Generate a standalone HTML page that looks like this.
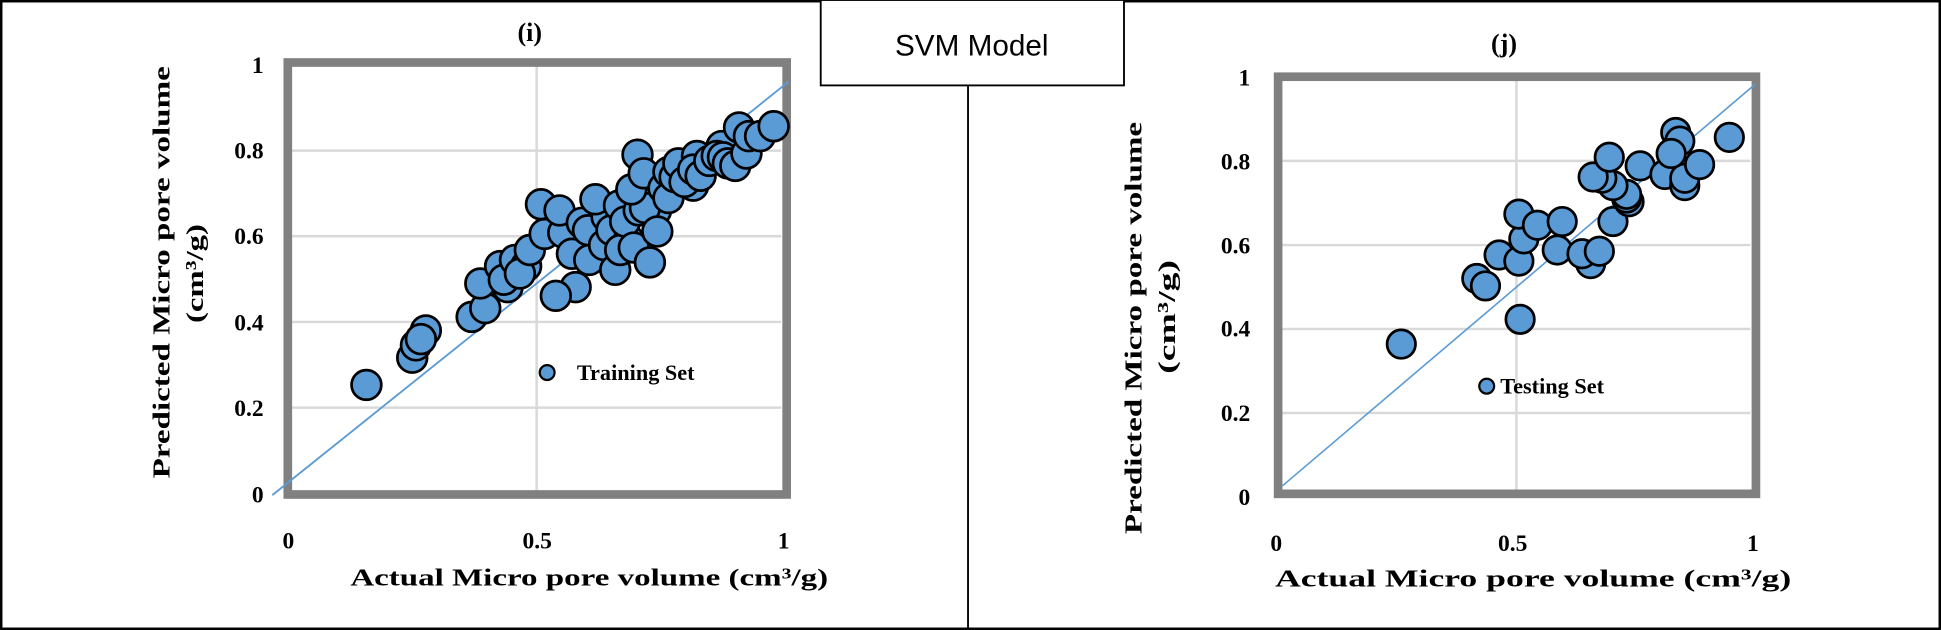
<!DOCTYPE html>
<html><head><meta charset="utf-8"><style>
html,body{margin:0;padding:0;background:#fff;}
svg{display:block;}
text{font-family:"Liberation Serif",serif;font-weight:bold;fill:#000;}
</style></head><body>
<svg width="1941" height="630" viewBox="0 0 1568 509" preserveAspectRatio="none" xmlns="http://www.w3.org/2000/svg">
<rect x="1" y="1" width="1566" height="507" fill="#fff" stroke="#000" stroke-width="2"/>
<line x1="782" y1="69" x2="782" y2="509" stroke="#000" stroke-width="1.5"/>
<rect x="663" y="0" width="245" height="69" fill="#fff" stroke="#000" stroke-width="1.5"/>
<text x="785" y="45" text-anchor="middle" style="font-family:'Liberation Sans',sans-serif;font-weight:normal;font-size:24px">SVM Model</text>

<!-- LEFT CHART -->
<g stroke="#d9d9d9" stroke-width="2">
<line x1="236" y1="121.7" x2="631" y2="121.7"/><line x1="236" y1="190.9" x2="631" y2="190.9"/>
<line x1="236" y1="260.1" x2="631" y2="260.1"/><line x1="236" y1="329.3" x2="631" y2="329.3"/>
<line x1="433.5" y1="52.5" x2="433.5" y2="398"/>
</g>
<rect x="232.5" y="50.5" width="403" height="349" fill="none" stroke="#808080" stroke-width="7"/>
<line x1="220" y1="400" x2="637" y2="66" stroke="#5B9BD5" stroke-width="1.5"/>
<g fill="#5B9BD5" stroke="#000" stroke-width="2.2">
<circle cx="296" cy="311" r="12"/><circle cx="333" cy="289" r="12"/><circle cx="336" cy="279" r="12"/><circle cx="344" cy="267" r="12"/><circle cx="340" cy="274" r="12"/>
<circle cx="381" cy="256" r="12"/><circle cx="392" cy="249" r="12"/><circle cx="388" cy="229" r="12"/><circle cx="410" cy="232" r="12"/><circle cx="404" cy="215" r="12"/>
<circle cx="407" cy="226" r="12"/><circle cx="416" cy="210" r="12"/><circle cx="425" cy="215" r="12"/><circle cx="420" cy="221" r="12"/><circle cx="428" cy="202" r="12"/>
<circle cx="440" cy="189" r="12"/><circle cx="455" cy="188" r="12"/><circle cx="437" cy="165" r="12"/><circle cx="452" cy="170" r="12"/><circle cx="465" cy="232" r="12"/><circle cx="449" cy="239" r="12"/>
<circle cx="462" cy="205" r="12"/><circle cx="476" cy="210" r="12"/><circle cx="470" cy="180" r="12"/><circle cx="475" cy="186" r="12"/><circle cx="490" cy="175" r="12"/>
<circle cx="481" cy="161" r="12"/><circle cx="488" cy="198" r="12"/><circle cx="494" cy="186" r="12"/><circle cx="497" cy="218" r="12"/><circle cx="508" cy="194" r="12"/>
<circle cx="501" cy="202" r="12"/><circle cx="500" cy="166" r="12"/><circle cx="505" cy="179" r="12"/><circle cx="512" cy="200" r="12"/><circle cx="516" cy="170" r="12"/>
<circle cx="530" cy="170" r="12"/><circle cx="521" cy="168" r="12"/><circle cx="525" cy="212" r="12"/><circle cx="531" cy="187" r="12"/><circle cx="510" cy="153" r="12"/>
<circle cx="515" cy="125" r="12"/><circle cx="520" cy="140" r="12"/><circle cx="536" cy="152" r="12"/><circle cx="540" cy="160" r="12"/><circle cx="560" cy="150" r="12"/>
<circle cx="540" cy="139" r="12"/><circle cx="545" cy="143" r="12"/><circle cx="548" cy="132" r="12"/><circle cx="553" cy="147" r="12"/><circle cx="563" cy="126" r="12"/>
<circle cx="560" cy="137" r="12"/><circle cx="566" cy="142" r="12"/><circle cx="573" cy="130" r="12"/><circle cx="583" cy="118" r="12"/><circle cx="579" cy="126" r="12"/>
<circle cx="584" cy="127" r="12"/><circle cx="588" cy="132" r="12"/><circle cx="594" cy="134" r="12"/><circle cx="597" cy="103" r="12"/><circle cx="603" cy="124" r="12"/>
<circle cx="605" cy="110" r="12"/><circle cx="614" cy="110" r="12"/><circle cx="625" cy="102" r="12"/>
</g>
<circle cx="442" cy="301" r="6" fill="#5B9BD5" stroke="#000" stroke-width="1.8"/>
<text x="466" y="307" style="font-size:18px">Training Set</text>
<text x="428" y="33" text-anchor="middle" style="font-size:21px">(i)</text>
<g style="font-size:19px" text-anchor="end">
<text x="213" y="59">1</text><text x="213" y="128">0.8</text><text x="213" y="197">0.6</text>
<text x="213" y="267">0.4</text><text x="213" y="336">0.2</text><text x="213" y="406">0</text>
</g>
<g style="font-size:19px" text-anchor="middle">
<text x="233" y="443">0</text><text x="434" y="443">0.5</text><text x="633" y="443">1</text>
</g>
<text x="283" y="473" textLength="386" lengthAdjust="spacingAndGlyphs" style="font-size:20px">Actual Micro pore volume (cm³/g)</text>
<text transform="translate(137,220) rotate(-90)" text-anchor="middle" textLength="333" lengthAdjust="spacingAndGlyphs" style="font-size:20px">Predicted Micro pore volume</text>
<text transform="translate(164,221) rotate(-90)" text-anchor="middle" textLength="80" lengthAdjust="spacingAndGlyphs" style="font-size:20px">(cm³/g)</text>

<!-- RIGHT CHART -->
<g stroke="#d9d9d9" stroke-width="2">
<line x1="1036" y1="130" x2="1414" y2="130"/><line x1="1036" y1="198" x2="1414" y2="198"/>
<line x1="1036" y1="265.8" x2="1414" y2="265.8"/><line x1="1036" y1="333.7" x2="1414" y2="333.7"/>
<line x1="1225" y1="62" x2="1225" y2="401"/>
</g>
<rect x="1032.5" y="62" width="386" height="337" fill="none" stroke="#808080" stroke-width="7"/>
<line x1="1036" y1="392.5" x2="1418" y2="68" stroke="#5B9BD5" stroke-width="1.3"/>
<g fill="#5B9BD5" stroke="#000" stroke-width="2.2">
<circle cx="1132" cy="278" r="11.5"/><circle cx="1193" cy="225" r="11.5"/><circle cx="1200" cy="231" r="11.5"/><circle cx="1228" cy="258" r="11.5"/>
<circle cx="1211" cy="206" r="11.5"/><circle cx="1227" cy="211" r="11.5"/><circle cx="1231" cy="193" r="11.5"/><circle cx="1227" cy="173" r="11.5"/>
<circle cx="1242" cy="182" r="11.5"/><circle cx="1262" cy="179" r="11.5"/><circle cx="1258" cy="202" r="11.5"/><circle cx="1285" cy="213" r="11.5"/>
<circle cx="1278" cy="205" r="11.5"/><circle cx="1292" cy="203" r="11.5"/><circle cx="1303" cy="179" r="11.5"/><circle cx="1316" cy="163" r="11.5"/>
<circle cx="1314" cy="160" r="11.5"/><circle cx="1314" cy="157" r="11.5"/><circle cx="1303" cy="150" r="11.5"/><circle cx="1294" cy="144" r="11.5"/>
<circle cx="1287" cy="143" r="11.5"/><circle cx="1300" cy="127" r="11.5"/><circle cx="1325" cy="134" r="11.5"/><circle cx="1345" cy="141" r="11.5"/>
<circle cx="1361" cy="150" r="11.5"/><circle cx="1361" cy="144" r="11.5"/><circle cx="1373" cy="133" r="11.5"/><circle cx="1353.7" cy="107" r="11.5"/>
<circle cx="1357" cy="114" r="11.5"/><circle cx="1350" cy="124" r="11.5"/><circle cx="1397" cy="111" r="11.5"/>
</g>
<circle cx="1201" cy="312" r="6" fill="#5B9BD5" stroke="#000" stroke-width="1.8"/>
<text x="1212" y="318" style="font-size:18px">Testing Set</text>
<text x="1215" y="42" text-anchor="middle" style="font-size:21px">(j)</text>
<g style="font-size:19px" text-anchor="end">
<text x="1010" y="69">1</text><text x="1010" y="137">0.8</text><text x="1010" y="205">0.6</text>
<text x="1010" y="272">0.4</text><text x="1010" y="340">0.2</text><text x="1010" y="408">0</text>
</g>
<g style="font-size:19px" text-anchor="middle">
<text x="1031" y="445">0</text><text x="1222" y="445">0.5</text><text x="1416" y="445">1</text>
</g>
<text x="1030" y="474" textLength="417" lengthAdjust="spacingAndGlyphs" style="font-size:20px">Actual Micro pore volume (cm³/g)</text>
<text transform="translate(922,265) rotate(-90)" text-anchor="middle" textLength="333" lengthAdjust="spacingAndGlyphs" style="font-size:20px">Predicted Micro pore volume</text>
<text transform="translate(949,256) rotate(-90)" text-anchor="middle" textLength="92" lengthAdjust="spacingAndGlyphs" style="font-size:20px">(cm³/g)</text>
</svg>
</body></html>
